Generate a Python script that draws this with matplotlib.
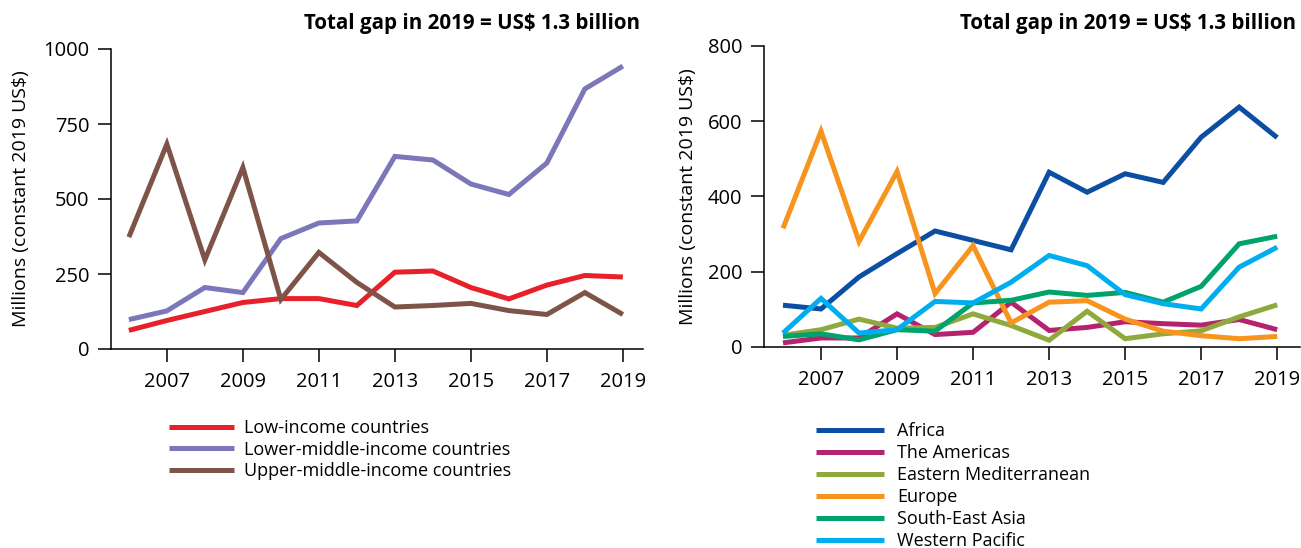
import matplotlib
matplotlib.use("Agg")
import matplotlib.pyplot as plt

plt.rcParams['font.family'] = ['Open Sans', 'DejaVu Sans']

years = list(range(2006, 2020))
tick_years = list(range(2007, 2020, 2))

# Left panel: income groups
low_income = [62, 95, 125, 155, 168, 168, 145, 256, 260, 205, 167, 213, 245, 240]
lower_middle = [98, 127, 205, 188, 368, 420, 427, 642, 630, 550, 515, 620, 867, 943]
upper_middle = [373, 683, 297, 605, 165, 322, 222, 140, 145, 152, 128, 115, 188, 115]
income_labels = ["Low-income countries", "Lower-middle-income countries", "Upper-middle-income countries"]
income_colors = ["#E8202A", "#7B77B9", "#7E5448"]

# Right panel: WHO regions
africa = [111, 101, 186, 248, 308, 283, 258, 464, 411, 460, 437, 557, 637, 556]
americas = [11, 24, 24, 88, 33, 39, 119, 44, 52, 67, 62, 58, 73, 46]
eastern_med = [31, 46, 74, 50, 52, 88, 57, 18, 95, 22, 35, 43, 80, 112]
europe = [315, 573, 280, 466, 142, 269, 64, 119, 123, 74, 42, 30, 22, 28]
south_east_asia = [28, 35, 19, 46, 42, 117, 124, 146, 137, 145, 119, 161, 274, 294]
western_pacific = [37, 129, 37, 46, 121, 117, 172, 243, 216, 139, 115, 101, 212, 265]
region_labels = ["Africa", "The Americas", "Eastern Mediterranean", "Europe", "South-East Asia", "Western Pacific"]
region_colors = ["#0B4EA2", "#B5236F", "#8FAA3C", "#F7941D", "#00A36C", "#00AEEF"]

title = "Total gap in 2019 = US$ 1.3 billion"
ylabel = "Millions (constant 2019 US$)"

fig = plt.figure(figsize=(13.01, 5.48), dpi=100)
W, H = 1301, 548

def make_ax(x0, x1, ytop, ybot):
    return fig.add_axes([x0 / W, 1 - ybot / H, (x1 - x0) / W, (ybot - ytop) / H])

axL = make_ax(111, 643, 49, 349)
axR = make_ax(764, 1300, 45.7, 347)

def style(ax, xlim, ylim, yticks, label_x):
    ax.set_xlim(*xlim)
    ax.set_ylim(*ylim)
    ax.set_yticks(yticks)
    ax.set_xticks(tick_years)
    ax.spines['top'].set_visible(False)
    ax.spines['right'].set_visible(False)
    for s in ['left', 'bottom']:
        ax.spines[s].set_linewidth(1.1)
    ax.tick_params(axis='x', length=9.5, width=1.1, pad=7, labelsize=14.5)
    ax.tick_params(axis='y', length=9.5, width=1.1, pad=6, labelsize=14.5)
    ax.set_ylabel(ylabel, fontsize=14)
    ax.yaxis.set_label_coords(label_x, 0.5)

lw = 3.6
for vals, c, lab in zip([low_income, lower_middle, upper_middle], income_colors, income_labels):
    axL.plot(years, vals, color=c, lw=lw, label=lab, solid_capstyle='butt', solid_joinstyle='miter', clip_on=False)
style(axL, (2005.53, 2019.53), (0, 1000), [0, 250, 500, 750, 1000], -0.152)

for vals, c, lab in zip([africa, americas, eastern_med, europe, south_east_asia, western_pacific], region_colors, region_labels):
    axR.plot(years, vals, color=c, lw=lw, label=lab, solid_capstyle='butt', solid_joinstyle='miter', clip_on=False)
style(axR, (2005.5, 2019.6), (0, 800), [0, 200, 400, 600, 800], -0.125)

fig.text(640 / W, 1 - 24 / H, title, ha='right', va='center', fontsize=14.8, fontweight='bold')
fig.text(1296 / W, 1 - 24 / H, title, ha='right', va='center', fontsize=14.8, fontweight='bold')

hL, lL = axL.get_legend_handles_labels()
fig.legend(hL, lL, loc='upper left', bbox_to_anchor=(164 / W, 1 - 414 / H), frameon=False,
           fontsize=13, handlelength=3.6, handletextpad=0.55, labelspacing=0.185, borderaxespad=0, borderpad=0.3)
hR, lR = axR.get_legend_handles_labels()
fig.legend(hR, lR, loc='upper left', bbox_to_anchor=(811 / W, 1 - 417 / H), frameon=False,
           fontsize=13, handlelength=3.75, handletextpad=0.7, labelspacing=0.22, borderaxespad=0, borderpad=0.3)

fig.savefig("out.png", dpi=100)
